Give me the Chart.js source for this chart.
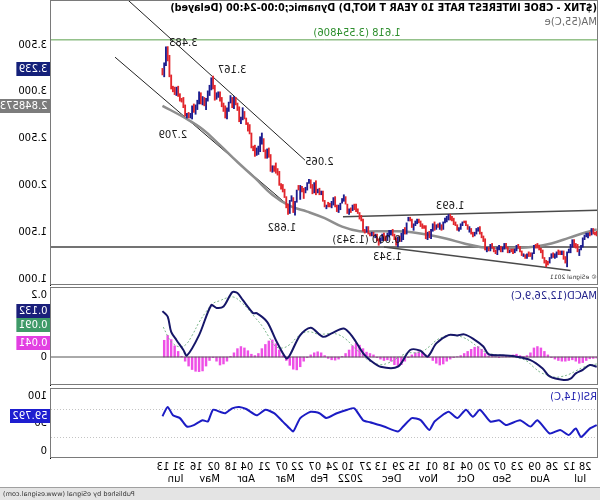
<!DOCTYPE html>
<html>
<head>
<meta charset="utf-8">
<script src="https://cdn.jsdelivr.net/npm/chart.js@4.4.1/dist/chart.umd.min.js"></script>
<style>
html, body { margin: 0; padding: 0; background: #fff; }
#wrap { position: relative; width: 600px; height: 500px; overflow: hidden; background: #fff; transform: scaleX(-1); }
#wrap canvas { position: absolute; left: 0; }
#footer { position: absolute; left: 0; top: 487px; width: 600px; height: 13px; box-sizing: border-box;
  background: #e4e4e4; border-top: 1px solid #a0a0a0; }
</style>
</head>
<body>
<div id="wrap">
  <canvas id="price" width="600" height="286" style="top:0"></canvas>
  <canvas id="macd" width="600" height="100" style="top:286px"></canvas>
  <canvas id="rsi" width="600" height="100" style="top:387px"></canvas>
  <div id="footer"><canvas id="foot" width="600" height="12" style="top:0"></canvas></div>
</div>
<script>
// ---- data (bar index 0 = 17 Jun 2021, one index per trading day) ----
const firstBar = 3;
const highs = [
  1.50,1.51,1.50,1.54,1.54,1.50,1.49,
  1.49,1.47,1.44,1.36,1.32,1.37,1.38,1.42,1.42,1.37,1.32,1.29,1.24,1.30,1.30,1.30,1.31,1.29,1.27,1.28,1.27,
  1.23,1.19,1.20,1.23,1.31,1.33,1.36,1.38,1.37,1.36,1.28,1.28,1.29,1.27,1.26,1.27,1.30,1.35,1.37,1.36,1.32,1.32,
  1.32,1.31,1.34,1.38,1.38,1.34,1.35,1.36,1.34,1.31,1.34,1.38,1.37,1.34,1.34,1.43,1.46,1.50,1.56,1.55,1.54,
  1.50,1.50,1.54,1.56,1.58,1.62,1.62,1.61,1.59,1.55,1.58,1.61,1.65,1.67,1.693,1.69,1.67,1.65,1.61,1.58,1.60,
  1.59,1.58,1.61,1.59,1.53,1.51,1.50,1.57,1.57,1.59,1.62,1.64,1.64,1.62,1.59,1.64,1.66,1.66,1.60,1.55,1.53,
  1.49,1.46,1.45,1.44,1.48,1.53,1.52,1.52,1.49,1.46,1.49,1.48,1.44,1.43,1.48,1.48,1.50,1.50,1.49,1.56,1.56,1.53,
  1.64,1.68,1.71,1.75,1.80,1.80,1.79,1.76,1.75,1.80,1.88,1.90,1.86,1.81,1.79,1.79,1.88,1.87,1.83,1.81,
  1.82,1.79,1.84,1.94,1.94,1.97,1.96,2.05,2.03,2.01,2.06,2.065,2.03,1.98,1.97,1.99,2.00,2.00,1.95,
  1.83,1.87,1.89,1.84,1.80,1.88,1.96,2.01,2.02,2.15,2.18,2.24,2.21,2.21,2.33,2.40,2.39,2.38,2.50,2.56,2.52,2.42,2.40,
  2.43,2.42,2.56,2.65,2.67,2.72,2.79,2.83,2.73,2.84,2.88,2.94,2.95,2.94,2.96,2.89,2.83,2.85,2.88,2.94,
  3.00,3.00,2.99,3.07,3.167,3.15,3.07,3.01,2.93,2.94,2.95,2.99,3.00,2.91,2.86,2.87,2.85,2.77,2.78,2.77,2.86,
  2.94,2.93,2.98,3.06,3.05,3.05,3.06,3.18,3.39,3.483,3.48,3.31,3.25
];
const lows = [
  1.45,1.46,1.47,1.48,1.47,1.46,1.44,
  1.45,1.42,1.34,1.31,1.25,1.29,1.33,1.34,1.34,1.28,1.28,1.13,1.17,1.21,1.26,1.26,1.26,1.23,1.22,1.23,1.22,
  1.17,1.15,1.13,1.17,1.22,1.28,1.31,1.33,1.33,1.27,1.21,1.24,1.24,1.22,1.22,1.24,1.25,1.29,1.33,1.30,1.28,1.27,
  1.29,1.28,1.28,1.33,1.32,1.29,1.29,1.31,1.26,1.27,1.29,1.33,1.30,1.30,1.29,1.31,1.40,1.44,1.48,1.51,1.48,
  1.46,1.45,1.48,1.50,1.53,1.57,1.60,1.57,1.53,1.51,1.52,1.57,1.58,1.62,1.63,1.63,1.61,1.60,1.53,1.52,1.53,
  1.55,1.53,1.52,1.51,1.43,1.44,1.42,1.43,1.54,1.54,1.56,1.60,1.59,1.57,1.52,1.55,1.62,1.62,1.48,1.48,1.42,
  1.40,1.40,1.343,1.36,1.42,1.46,1.47,1.45,1.41,1.41,1.41,1.41,1.38,1.36,1.41,1.44,1.46,1.46,1.46,1.48,1.50,1.49,
  1.51,1.62,1.64,1.70,1.72,1.74,1.73,1.71,1.69,1.70,1.80,1.83,1.81,1.74,1.71,1.72,1.77,1.79,1.76,1.77,
  1.77,1.75,1.77,1.83,1.90,1.90,1.92,1.90,1.92,1.91,1.97,2.02,1.95,1.92,1.86,1.93,1.85,1.95,1.82,
  1.682,1.71,1.83,1.70,1.69,1.76,1.87,1.93,1.96,2.00,2.11,2.13,2.15,2.14,2.15,2.30,2.29,2.29,2.36,2.44,2.36,2.33,2.32,
  2.31,2.37,2.40,2.55,2.58,2.65,2.71,2.70,2.66,2.68,2.80,2.86,2.82,2.83,2.88,2.79,2.71,2.72,2.79,2.84,
  2.90,2.94,2.92,2.91,3.03,3.02,2.96,2.90,2.81,2.85,2.86,2.87,2.87,2.81,2.76,2.78,2.709,2.72,2.72,2.72,2.74,
  2.83,2.89,2.90,2.95,2.96,2.97,3.00,3.03,3.16,3.33,3.28,3.16,3.18
];
const closes = [
  1.47,1.49,1.49,1.52,1.48,1.48,1.47,
  1.46,1.43,1.35,1.32,1.29,1.36,1.36,1.42,1.35,1.30,1.29,1.19,1.22,1.29,1.27,1.28,1.28,1.24,1.23,1.27,1.24,
  1.17,1.18,1.18,1.23,1.30,1.32,1.35,1.35,1.36,1.28,1.26,1.26,1.27,1.24,1.26,1.25,1.29,1.34,1.34,1.31,1.28,1.30,
  1.30,1.29,1.32,1.37,1.33,1.30,1.34,1.32,1.28,1.30,1.33,1.37,1.31,1.32,1.30,1.41,1.45,1.48,1.54,1.53,1.49,
  1.46,1.48,1.53,1.52,1.57,1.61,1.61,1.58,1.54,1.51,1.57,1.59,1.64,1.65,1.68,1.65,1.63,1.61,1.53,1.57,1.55,
  1.56,1.54,1.60,1.52,1.45,1.49,1.43,1.55,1.56,1.56,1.61,1.63,1.60,1.58,1.54,1.63,1.65,1.64,1.48,1.50,1.44,
  1.41,1.45,1.35,1.43,1.47,1.52,1.49,1.48,1.42,1.44,1.46,1.42,1.40,1.42,1.47,1.46,1.49,1.48,1.48,1.55,1.51,1.51,
  1.63,1.66,1.70,1.73,1.77,1.78,1.74,1.74,1.70,1.79,1.87,1.86,1.83,1.77,1.75,1.78,1.87,1.80,1.78,1.79,
  1.80,1.77,1.83,1.93,1.92,1.96,1.94,2.03,1.94,1.99,2.05,2.04,1.97,1.93,1.94,1.99,1.97,1.97,1.83,
  1.72,1.86,1.85,1.74,1.78,1.87,1.95,1.99,2.00,2.14,2.16,2.19,2.19,2.15,2.32,2.38,2.30,2.37,2.48,2.46,2.40,2.35,2.32,
  2.38,2.41,2.55,2.60,2.66,2.70,2.78,2.72,2.70,2.83,2.85,2.94,2.84,2.91,2.90,2.81,2.72,2.83,2.85,2.89,
  2.99,2.97,2.93,3.04,3.12,3.04,2.99,2.91,2.82,2.93,2.88,2.98,2.89,2.84,2.78,2.86,2.76,2.75,2.75,2.74,2.84,
  2.91,2.91,2.94,3.04,2.98,3.03,3.04,3.16,3.37,3.48,3.29,3.20,3.24
];

const maIdx  = [4, 10, 20, 30, 40, 50, 60, 70, 80, 90, 100, 110, 120, 130, 140, 150, 160, 170, 180, 190, 200, 210, 220, 230, 240, 253];
const maVals = [1.53, 1.50, 1.44, 1.38, 1.345, 1.33, 1.33, 1.34, 1.38, 1.43, 1.47, 1.50, 1.51, 1.51, 1.51, 1.56, 1.65, 1.72, 1.78, 1.90, 2.08, 2.25, 2.43, 2.60, 2.72, 2.85];

const macdIdx  = [4, 8, 12, 16, 19, 23, 31, 35, 42, 50, 58, 66, 69, 75, 80, 84, 89, 96, 101, 105, 111, 118, 128, 134, 138, 144, 149, 156, 161, 168, 174, 180, 182, 188, 193, 199, 201, 207, 210, 213, 218, 222, 225, 232, 239, 241, 245, 248, 250, 253];
const macdVals = [-0.028, -0.023, -0.037, -0.047, -0.062, -0.066, -0.056, -0.033, -0.009, 0.001, 0.005, 0.008, 0.030, 0.053, 0.065, 0.062, 0.063, 0.039, 0.001, 0.018, 0.020, -0.028, -0.028, -0.009, 0.011, 0.058, 0.082, 0.068, 0.058, 0.084, 0.063, 0.005, -0.004, 0.049, 0.101, 0.126, 0.126, 0.164, 0.184, 0.186, 0.145, 0.141, 0.149, 0.063, 0.004, 0.020, 0.049, 0.072, 0.116, 0.132];

const signalIdx  = [4, 8, 12, 16, 20, 24, 28, 32, 36, 40, 44, 48, 52, 56, 60, 64, 68, 72, 76, 80, 84, 88, 92, 96, 100, 104, 108, 112, 116, 120, 124, 128, 132, 136, 140, 144, 148, 152, 156, 160, 164, 168, 172, 176, 180, 184, 188, 192, 196, 200, 204, 208, 212, 216, 220, 224, 228, 232, 236, 240, 244, 248, 250, 253];
const signalVals = [-0.020, -0.024, -0.030, -0.040, -0.050, -0.056, -0.058, -0.052, -0.045, -0.030, -0.012, -0.004, 0.000, 0.004, 0.006, 0.008, 0.014, 0.028, 0.043, 0.055, 0.061, 0.064, 0.058, 0.048, 0.030, 0.016, 0.012, 0.012, 0.004, -0.008, -0.018, -0.022, -0.016, -0.006, 0.012, 0.032, 0.052, 0.064, 0.068, 0.066, 0.066, 0.072, 0.070, 0.056, 0.036, 0.026, 0.030, 0.058, 0.090, 0.114, 0.138, 0.158, 0.172, 0.170, 0.162, 0.154, 0.130, 0.100, 0.062, 0.034, 0.030, 0.044, 0.060, 0.091];

// histogram: one value every second bar, starting at bar 4
const histStart = 4;
const histVals = [
  -0.003, -0.004, -0.005, -0.010, -0.016, -0.018, -0.012, -0.008, -0.010, -0.012,
  -0.012, -0.010, -0.006, -0.002, 0.006, 0.016, 0.026, 0.030, 0.026, 0.012,
  0.004, 0.002, 0.004, 0.008, 0.006, 0.002, 0.002, 0.001, -0.002, 0.001,
  0.002, 0.003, 0.010, 0.022, 0.030, 0.028, 0.022, 0.016, 0.010, 0.004,
  0.001, -0.002, -0.006, -0.012, -0.020, -0.023, -0.018, -0.010, -0.002, 0.006,
  0.012, 0.015, 0.012, 0.006, -0.002, -0.012, -0.022, -0.028, -0.022, -0.012,
  -0.008, -0.010, -0.006, -0.002, 0.006, 0.010, 0.014, 0.024, 0.034, 0.039,
  0.032, 0.020, 0.010, 0.002, -0.006, -0.009, -0.008, -0.004, 0.004, 0.012,
  0.015, 0.012, 0.006, -0.002, -0.012, -0.028, -0.037, -0.035, -0.024, -0.010,
  0.004, 0.020, 0.038, 0.049, 0.046, 0.036, 0.024, 0.010, 0.004, 0.008,
  0.018, 0.026, 0.030, 0.024, 0.012, 0.002, -0.012, -0.020, -0.023, -0.012,
  -0.002, -0.010, -0.026, -0.040, -0.042, -0.041, -0.036, -0.026, -0.012, 0.002,
  0.016, 0.032, 0.050, 0.062, 0.048
];

const rsiIdx  = [4, 8, 13, 16, 20, 25, 31, 38, 42, 48, 56, 60, 65, 71, 75, 79, 84, 89, 97, 100, 105, 110, 115, 118, 126, 134, 138, 143, 147, 153, 159, 163, 168, 174, 178, 180, 184, 189, 194, 199, 205, 209, 213, 217, 220, 224, 227, 230, 235, 239, 243, 247, 250, 253];
const rsiVals = [47, 42, 30, 42, 33, 40, 35, 54, 45, 54, 47, 54, 52, 69, 59, 69, 57, 66, 52, 40, 54, 57, 45, 38, 45, 51, 54, 71, 69, 64, 57, 64, 66, 57, 38, 42, 52, 64, 69, 61, 70, 73, 71, 64, 66, 69, 52, 54, 47, 45, 57, 61, 73, 59.792];

const dayTickIdx = [7, 16, 26, 36, 46, 56, 65, 75, 85, 95, 105, 114, 124, 133, 143, 152, 162, 172, 181, 191, 201, 210, 220, 230, 240, 249];
const dayTickLabels = ['28', '12', '26', '09', '23', '07', '20', '04', '18', '01', '15', '29', '13', '27', '10', '24', '07', '22', '07', '21', '04', '18', '02', '16', '31', '13'];
const monthTickIdx = [10, 31, 53, 74, 95, 116, 138, 158, 177, 200, 220, 241];
const monthTickLabels = ['Jul', 'Aug', 'Sep', 'Oct', 'Nov', 'Dec', '2022', 'Feb', 'Mar', 'Apr', 'May', 'Jun'];
const priceTicks = [1.0, 1.5, 2.0, 2.5, 3.0, 3.5];

// drawn trend lines: [fromBar, fromPrice, toBar, toPrice]
const channelLines = [[171.3, 2.27, 272.8, 3.98], [179.9, 1.77, 280.2, 3.37]];
const rangeLines = [[3.3, 1.735, 149.5, 1.665], [19, 1.09, 126, 1.343]];
const fibLow = 1.343, fibHigh = 3.554806;

const noteIdx   = [241, 213, 163, 184.5, 88, 124, 136, 247, 141.4];
const notePrice = [3.52, 3.225, 2.243, 1.545, 1.78, 1.232, 1.409, 2.539, 3.628];
const noteText  = ['3.483', '3.167', '2.065', '1.682', '1.693', '1.343', '0.000 (1.343)', '2.709', '1.618 (3.554806)'];

const lastClose = 3.239, lastMa = 2.848573;
const lastMacd = 0.132, lastSignal = 0.091, lastHist = 0.041, lastRsi = 59.792;

// ---- layout ----
const X_MIN = 3.27, X_MAX = 316.9;
const FONT = 'DejaVu Sans';
const pts = (xs, ys) => xs.map((x, i) => ({ x: x, y: ys[i] }));
const seg = s => [{ x: s[0], y: s[1] }, { x: s[2], y: s[3] }];
const flat = v => [{ x: X_MIN, y: v }, { x: X_MAX, y: v }];
const lineSet = (data, color, width, extra) => Object.assign({
  type: 'line', data: data, borderColor: color, borderWidth: width, pointRadius: 0, fill: false, order: 3
}, extra || {});

// keep chart areas exactly where the panels are: no label padding from the axes
function noPad(s) { s.paddingTop = 0; s.paddingBottom = 0; s.paddingLeft = 0; s.paddingRight = 0; }

function xAxis(extra) {
  return Object.assign({ type: 'linear', min: X_MIN, max: X_MAX, offset: false, display: false }, extra || {});
}
function yAxis(min, max, extra) {
  return Object.assign({
    position: 'right', min: min, max: max,
    grid: { display: false, drawTicks: false },
    border: { display: true, color: '#000', width: 1 },
    ticks: { display: false },
    afterFit: s => { s.width = 51; noPad(s); }
  }, extra || {});
}
const baseOpts = {
  responsive: false, animation: false, devicePixelRatio: 1,
  plugins: { legend: { display: false }, tooltip: { enabled: false } }
};

function fitText(ctx, text, weight, size, width) {
  ctx.font = weight + ' ' + size + 'px "' + FONT + '"';
  const w = ctx.measureText(text).width;
  ctx.font = weight + ' ' + (size * width / w).toFixed(2) + 'px "' + FONT + '"';
}
function axisBox(ctx, chart, value, text, bg, fg) {
  const y = Math.round(chart.scales.y.getPixelForValue(value));
  ctx.font = '10px "' + FONT + '"';
  const w = ctx.measureText(text).width + 5;
  ctx.fillStyle = bg;
  ctx.fillRect(550, y - 7, w, 14);
  ctx.fillStyle = fg;
  ctx.textAlign = 'left';
  ctx.textBaseline = 'middle';
  ctx.fillText(text, 552.5, y);
}
function axisLabel(ctx, chart, value, text) {
  const a = chart.chartArea;
  let y = chart.scales.y.getPixelForValue(value);
  y = Math.min(Math.max(y, a.top + 8), a.bottom - 7);
  ctx.font = '10px "' + FONT + '"';
  ctx.fillStyle = '#000';
  ctx.textAlign = 'left';
  ctx.textBaseline = 'middle';
  ctx.fillText(text, 553, y);
}
function frame(ctx, chart) {
  const a = chart.chartArea;
  ctx.strokeStyle = '#7a7a7a';
  ctx.lineWidth = 1;
  ctx.strokeRect(a.left + 0.5, a.top + 0.5, a.right - a.left, a.bottom - a.top - 1);
}

// ---- price panel ----
const barColors = closes.map((c, i) => (i > 0 && c < closes[i - 1]) ? '#1d1d8f' : '#e2262c');
const barData = highs.map((h, i) => ({ x: firstBar + i, y: [lows[i], h] }));

const pricePlugin = {
  id: 'priceText',
  afterDraw(chart) {
    const ctx = chart.ctx, sx = chart.scales.x, sy = chart.scales.y;
    ctx.save();
    frame(ctx, chart);
    ctx.textBaseline = 'middle';
    ctx.textAlign = 'left';
    ctx.fillStyle = '#000';
    const title = '($TNX - CBOE INTEREST RATE 10 YEAR T NOT,D) Dynamic;0:00-24:00 (Delayed)';
    fitText(ctx, title, 'bold', 10, 428);
    ctx.fillText(title, 3, 8);
    ctx.font = '10px "' + FONT + '"';
    ctx.fillStyle = '#6a6a6a';
    ctx.fillText('MA(55,C)e', 3, 22);
    ctx.fillStyle = '#333';
    fitText(ctx, '\u00a9 eSignal 2011', 'normal', 7, 47);
    ctx.fillText('\u00a9 eSignal 2011', 3, 277);
    ctx.textAlign = 'center';
    ctx.font = '10px "' + FONT + '"';
    noteText.forEach((t, i) => {
      ctx.fillStyle = i === noteText.length - 1 ? '#2f8f2f' : '#1a1a1a';
      ctx.fillText(t, sx.getPixelForValue(noteIdx[i]), sy.getPixelForValue(notePrice[i]));
    });
    axisBox(ctx, chart, lastClose, lastClose.toFixed(3), '#14207a', '#fff');
    axisBox(ctx, chart, lastMa, String(lastMa), '#7c7c7c', '#fff');
    ctx.restore();
  }
};

new Chart(document.getElementById('price'), {
  type: 'bar',
  data: {
    datasets: [
      { type: 'bar', data: barData, backgroundColor: barColors, barThickness: 1.2, order: 1 },
      lineSet(pts(maIdx, maVals), '#8e8e8e', 2.5, { order: 2, tension: 0.4 }),
      ...channelLines.map(s => lineSet(seg(s), '#222', 1)),
      ...rangeLines.map(s => lineSet(seg(s), '#4a4a4a', 1.5)),
      lineSet(flat(fibLow), '#444', 1.5),
      lineSet(flat(fibHigh), '#5aa04c', 1)
    ]
  },
  options: Object.assign({}, baseOpts, {
    layout: { padding: { left: 2, right: 0, top: 0, bottom: 1 } },
    scales: {
      x: xAxis(),
      y: yAxis(3.5 - 240 / 93.6, 3.5 + 45 / 93.6, {
        ticks: { display: true, padding: 4, color: '#000', font: { family: FONT, size: 10 }, callback: v => v.toFixed(3) },
        afterBuildTicks: s => { s.ticks = priceTicks.map(v => ({ value: v })); }
      })
    }
  }),
  plugins: [pricePlugin]
});

// ---- MACD panel ----
const histData = histVals.map((v, i) => ({ x: histStart + 2 * i, y: v }));
const macdPlugin = {
  id: 'macdText',
  afterDraw(chart) {
    const ctx = chart.ctx;
    ctx.save();
    frame(ctx, chart);
    ctx.font = '10px "' + FONT + '"';
    ctx.fillStyle = '#24248c';
    ctx.textAlign = 'left';
    ctx.textBaseline = 'middle';
    ctx.fillText('MACD(12,26,9,C)', 3, 10);
    axisLabel(ctx, chart, 0.2, '0.2');
    axisLabel(ctx, chart, 0, '0');
    axisBox(ctx, chart, lastMacd, lastMacd.toFixed(3), '#1a1f7a', '#fff');
    axisBox(ctx, chart, lastSignal, lastSignal.toFixed(3), '#3f9a68', '#fff');
    axisBox(ctx, chart, lastHist, lastHist.toFixed(3), '#e23fe2', '#fff');
    ctx.restore();
  }
};
new Chart(document.getElementById('macd'), {
  type: 'bar',
  data: {
    datasets: [
      { type: 'bar', data: histData, backgroundColor: '#ee4fe6', barThickness: 1.8, order: 4 },
      lineSet(flat(0), '#555', 1, { order: 3 }),
      lineSet(pts(signalIdx, signalVals), '#7bb68a', 1, { order: 2, borderDash: [2, 2], tension: 0.4 }),
      lineSet(pts(macdIdx, macdVals), '#161668', 2, { order: 1, tension: 0.3 })
    ]
  },
  options: Object.assign({}, baseOpts, {
    layout: { padding: { left: 2, right: 0, top: 1, bottom: 1 } },
    scales: { x: xAxis(), y: yAxis(-28 / 348, 70 / 348) }
  }),
  plugins: [macdPlugin]
});

// ---- RSI panel with the date axis ----
const rsiPlugin = {
  id: 'rsiText',
  beforeDatasetsDraw(chart) {
    const ctx = chart.ctx, a = chart.chartArea, sy = chart.scales.y;
    ctx.save();
    ctx.strokeStyle = '#c4c4c4';
    ctx.lineWidth = 1;
    ctx.setLineDash([1, 2]);
    [70, 30].forEach(v => {
      const y = Math.round(sy.getPixelForValue(v)) + 0.5;
      ctx.beginPath(); ctx.moveTo(a.left, y); ctx.lineTo(a.right, y); ctx.stroke();
    });
    ctx.restore();
  },
  afterDraw(chart) {
    const ctx = chart.ctx;
    ctx.save();
    frame(ctx, chart);
    ctx.font = '10px "' + FONT + '"';
    ctx.fillStyle = '#2424b0';
    ctx.textAlign = 'left';
    ctx.textBaseline = 'middle';
    ctx.fillText('RSI(14,C)', 3, 10);
    axisLabel(ctx, chart, 100, '100');
    axisLabel(ctx, chart, 50, '50');
    axisLabel(ctx, chart, 0, '0');
    axisBox(ctx, chart, lastRsi, String(lastRsi), '#1e1ed0', '#fff');
    ctx.restore();
  }
};
const dateAxis = (idx, labels, pad, weight) => xAxis({
  display: true, position: 'bottom', weight: weight,
  grid: { display: false, drawTicks: false }, border: { display: false },
  ticks: {
    autoSkip: false, maxRotation: 0, minRotation: 0, align: 'start', padding: pad,
    color: '#000', font: { family: FONT, size: 10 },
    callback: v => labels[idx.indexOf(v)]
  },
  afterBuildTicks: s => { s.ticks = idx.map(v => ({ value: v })); },
  afterFit: s => { s.height = 12; noPad(s); }
});
new Chart(document.getElementById('rsi'), {
  type: 'line',
  data: {
    datasets: [lineSet(pts(rsiIdx, rsiVals), '#1c1cc4', 2, { tension: 0.2 })]
  },
  options: Object.assign({}, baseOpts, {
    layout: { padding: { left: 2, right: 0, top: 1, bottom: 5 } },
    scales: {
      x: dateAxis(dayTickIdx, dayTickLabels, 3, 1),
      x2: dateAxis(monthTickIdx, monthTickLabels, 3, 2),
      y: yAxis(0, 100)
    }
  }),
  plugins: [rsiPlugin]
});

// ---- footer text ----
const fctx = document.getElementById('foot').getContext('2d');
const footText = 'Published by eSignal (www.esignal.com)';
fctx.fillStyle = '#333';
fctx.textBaseline = 'middle';
fctx.textAlign = 'right';
fitText(fctx, footText, 'normal', 8, 132);
fctx.fillText(footText, 597, 6);
</script>
</body>
</html>
